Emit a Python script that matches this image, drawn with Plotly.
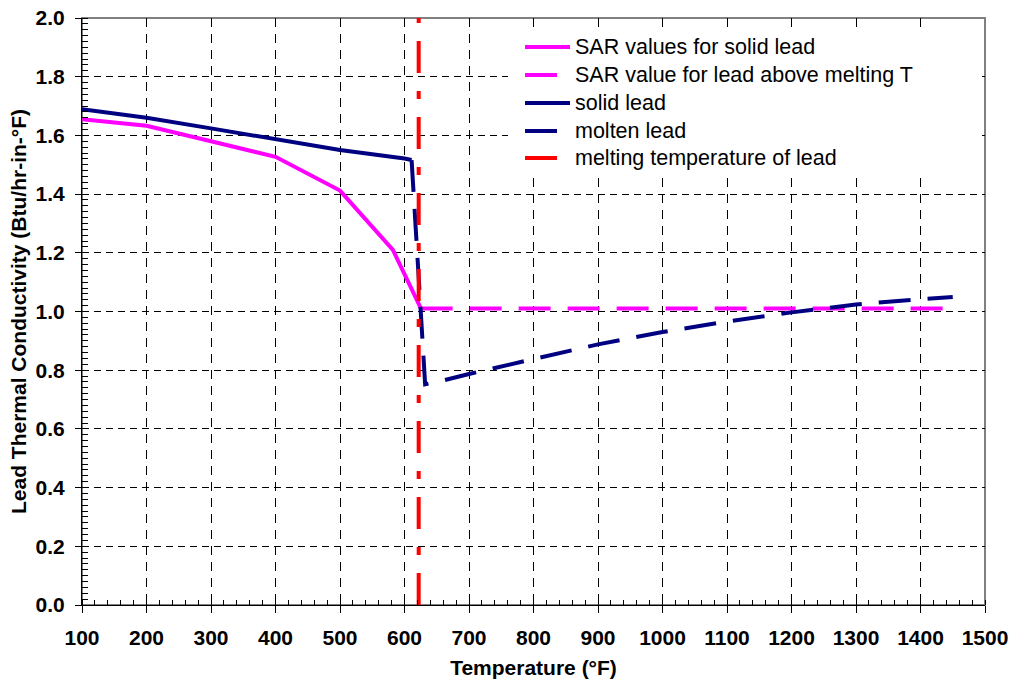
import plotly.graph_objects as go

# ---- data ----
sar_solid_T = [100, 200, 300, 400, 500, 582, 625]
sar_solid_k = [1.655, 1.633, 1.580, 1.527, 1.412, 1.210, 1.012]

sar_liquid_T = [625, 1450]
sar_liquid_k = [1.010, 1.010]

solid_T = [100, 200, 300, 400, 500, 600, 611]
solid_k = [1.689, 1.660, 1.624, 1.587, 1.550, 1.521, 1.516]

molten_T = [611, 632, 660, 700, 800, 900, 1000, 1100, 1200, 1300, 1400, 1450]
molten_k = [1.516, 0.752, 0.765, 0.787, 0.838, 0.888, 0.930, 0.966, 0.997, 1.024, 1.042, 1.049]

melt_T = [622, 622]
melt_k = [0.0, 2.0]

x_ticks = list(range(100, 1501, 100))
y_ticks = [0.0, 0.2, 0.4, 0.6, 0.8, 1.0, 1.2, 1.4, 1.6, 1.8, 2.0]

series_names = ["SAR values for solid lead", "SAR value for lead above melting T",
                "solid lead", "molten lead", "melting temperature of lead"]

FONT = "Arial, 'Liberation Sans', sans-serif"
MAGENTA = "#FF00FF"
NAVY = "#000080"
RED = "#FF0000"
DASH_LONG = "32px,17px"
DASH_MELT = "32px,18px,8px,18px"

styles = [
    dict(color=MAGENTA, width=4),
    dict(color=MAGENTA, width=4, dash=DASH_LONG),
    dict(color=NAVY, width=4),
    dict(color=NAVY, width=4, dash=DASH_LONG),
    dict(color=RED, width=4, dash=DASH_MELT),
]
data = [(sar_solid_T, sar_solid_k), (sar_liquid_T, sar_liquid_k),
        (solid_T, solid_k), (molten_T, molten_k), (melt_T, melt_k)]

fig = go.Figure()
for (xs, ys), name, st in zip(data, series_names, styles):
    fig.add_trace(go.Scatter(x=xs, y=ys, mode="lines", name=name, line=st,
                             showlegend=False))

L, R, T, B = 82, 30, 18, 77
W, H = 1015, 682
pw = W - L - R
ph = H - T - B
XR = (100, 1500)
YR = (0, 2.0)

def px2paper_x(px):
    return (px - L) / pw

def px2paper_y(py):
    return (H - B - py) / ph

def px2data_x(px):
    return XR[0] + px2paper_x(px) * (XR[1] - XR[0])

def px2data_y(py):
    return YR[0] + px2paper_y(py) * (YR[1] - YR[0])

shapes = [
    dict(type="rect", xref="paper", yref="paper", x0=0, x1=1, y0=0, y1=1,
         line=dict(color="#808080", width=2), fillcolor="rgba(0,0,0,0)", layer="below"),
    dict(type="rect", xref="x", yref="y",
         x0=px2data_x(508), x1=px2data_x(978), y0=px2data_y(176), y1=px2data_y(34),
         line=dict(width=0), fillcolor="white", layer="between"),
]
annotations = []
row_y = [47, 75, 103, 131, 158]
for i, (name, st) in enumerate(zip(series_names, styles)):
    yy = px2paper_y(row_y[i])
    shapes.append(dict(type="line", xref="paper", yref="paper",
                       x0=px2paper_x(525), x1=px2paper_x(570), y0=yy, y1=yy,
                       line=st, layer="above"))
    annotations.append(dict(xref="paper", yref="paper", x=px2paper_x(573), y=yy,
                            xanchor="left", yanchor="middle", showarrow=False,
                            text=name, font=dict(family=FONT, size=21.5, color="black")))

fig.update_layout(
    width=W, height=H,
    margin=dict(l=L, r=R, t=T, b=B, autoexpand=False),
    paper_bgcolor="white", plot_bgcolor="white",
    font=dict(family=FONT, color="black", size=21),
    showlegend=False,
    xaxis=dict(range=list(XR), tickmode="array", tickvals=x_ticks,
               ticktext=[str(v) for v in x_ticks],
               ticks="outside", ticklen=7, tickwidth=1, tickcolor="black",
               showline=True, linecolor="black", linewidth=1,
               showgrid=True, gridcolor="black", gridwidth=1, griddash="9px,7px",
               zeroline=False,
               tickfont=dict(family=FONT, size=21, color="black", weight="bold"),
               ticklabelstandoff=7,
               minor=dict(ticks="inside", dtick=20, tick0=100, ticklen=5,
                          tickcolor="black", tickwidth=1, showgrid=False),
               title=dict(text="Temperature (°F)", standoff=12,
                          font=dict(family=FONT, size=21, color="black", weight="bold"))),
    yaxis=dict(range=list(YR), tickmode="array", tickvals=y_ticks,
               ticktext=[f"{v:.1f}" for v in y_ticks],
               ticks="outside", ticklen=6, tickwidth=1, tickcolor="black",
               showline=True, linecolor="black", linewidth=1,
               showgrid=True, gridcolor="black", gridwidth=1, griddash="7px,5px",
               zeroline=False,
               tickfont=dict(family=FONT, size=21, color="black", weight="bold"),
               ticklabelstandoff=6,
               minor=dict(ticks="inside", dtick=0.02, tick0=0, ticklen=6,
                          tickcolor="black", tickwidth=1, showgrid=False),
               title=dict(text="Lead Thermal Conductivity (Btu/hr-in-°F)", standoff=3,
                          font=dict(family=FONT, size=21, color="black", weight="bold"))),
    xaxis2=dict(overlaying="x", anchor="y", side="bottom", range=list(XR),
                tickmode="array", tickvals=x_ticks, ticks="inside", ticklen=7,
                tickcolor="black", tickwidth=1, showticklabels=False,
                showgrid=False, showline=False, zeroline=False),
    yaxis2=dict(overlaying="y", anchor="x", side="left", range=list(YR),
                tickmode="array", tickvals=y_ticks, ticks="inside", ticklen=6,
                tickcolor="black", tickwidth=1, showticklabels=False,
                showgrid=False, showline=False, zeroline=False),
    shapes=shapes,
    annotations=annotations,
)

fig.write_html("out.html", config={"displayModeBar": False},
               post_script="document.body.style.margin='0';")
